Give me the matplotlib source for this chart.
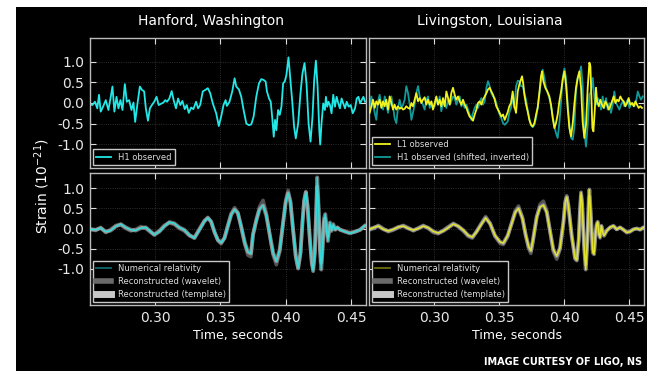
import matplotlib
matplotlib.use("Agg")
import matplotlib.pyplot as plt
from matplotlib.patches import Rectangle
from matplotlib.lines import Line2D

plt.rcParams['axes.unicode_minus'] = False
plt.rcParams['font.family'] = ['DejaVu Sans']

# ---------------- data (time in s, strain in 1e-21) ----------------
h1_t = [0.2492,0.2518,0.2538,0.2556,0.2569,0.2582,0.2600,0.2621,0.2641,0.2659,
        0.2672,0.2687,0.2703,0.2718,0.2733,0.2749,0.2767,0.2782,0.2800,0.2818,
        0.2833,0.2846,0.2864,0.2882,0.2898,0.2915,0.2928,0.2944,0.2959,0.2974,
        0.2992,0.3010,0.3026,0.3044,0.3062,0.3077,0.3090,0.3108,0.3126,0.3141,
        0.3159,0.3175,0.3192,0.3208,0.3226,0.3241,0.3257,0.3275,0.3292,0.3313,
        0.3328,0.3344,0.3364,0.3385,0.3403,0.3421,0.3441,0.3467,0.3487,0.3505,
        0.3523,0.3539,0.3549,0.3569,0.3590,0.3608,0.3621,0.3641,0.3659,0.3677,
        0.3698,0.3718,0.3736,0.3754,0.3774,0.3795,0.3813,0.3831,0.3846,0.3856,
        0.3872,0.3885,0.3898,0.3908,0.3918,0.3928,0.3941,0.3954,0.3967,0.3980,
        0.3992,0.4005,0.4021,0.4036,0.4051,0.4064,0.4077,0.4095,0.4113,0.4128,
        0.4144,0.4159,0.4175,0.4190,0.4205,0.4218,0.4231,0.4244,0.4257,0.4264,
        0.4274,0.4287,0.4300,0.4308,0.4318,0.4328,0.4339,0.4351,0.4364,0.4377,
        0.4390,0.4403,0.4415,0.4428,0.4441,0.4454,0.4467,0.4482,0.4498,0.4513,
        0.4531,0.4544,0.4557,0.4570,0.4582,0.4595,0.4608]
h1_v = [-0.01,-0.05,0.03,-0.13,0.20,-0.21,-0.09,0.07,-0.17,0.15,
        0.40,-0.21,0.15,-0.13,0.07,-0.17,0.46,0.03,0.07,-0.17,
        0.01,-0.46,-0.01,0.40,0.32,0.28,-0.13,-0.43,-0.13,-0.05,
        0.03,0.15,-0.05,-0.02,0.01,0.07,0.03,0.11,0.29,0.07,
        -0.13,0.11,-0.05,0.05,-0.15,-0.05,-0.24,-0.11,-0.15,0.03,
        -0.13,-0.05,0.28,0.32,0.36,0.24,-0.01,-0.25,-0.56,-0.33,
        -0.05,0.07,-0.07,0.03,0.28,0.60,0.40,0.33,0.15,-0.17,
        -0.50,-0.54,-0.52,-0.33,0.15,0.48,0.58,0.56,0.52,0.28,
        0.11,0.03,-0.41,-0.82,-0.41,-0.66,-0.17,-0.29,-0.09,0.48,
        0.52,0.68,1.11,0.56,-0.01,-0.58,-0.86,-0.50,0.24,0.72,
        0.97,0.48,-0.50,-0.94,-0.33,0.56,1.03,0.40,-0.66,-1.01,
        -0.50,-0.01,-0.17,0.15,-0.09,0.03,-0.05,-0.25,0.20,-0.09,
        0.15,-0.01,-0.13,0.11,-0.01,-0.13,0.03,-0.09,-0.05,-0.25,
        -0.13,0.11,0.15,-0.01,0.07,0.15,0.03]

l1_t = [0.2505,0.2518,0.2531,0.2544,0.2556,0.2569,0.2582,0.2595,0.2608,0.2621,
        0.2633,0.2646,0.2659,0.2672,0.2685,0.2697,0.2710,0.2723,0.2736,0.2749,
        0.2762,0.2774,0.2787,0.2800,0.2813,0.2826,0.2838,0.2851,0.2864,0.2877,
        0.2890,0.2903,0.2915,0.2928,0.2941,0.2954,0.2967,0.2980,0.2992,0.3005,
        0.3018,0.3031,0.3044,0.3056,0.3069,0.3082,0.3095,0.3108,0.3121,0.3133,
        0.3146,0.3159,0.3172,0.3185,0.3198,0.3210,0.3223,0.3236,0.3249,0.3262,
        0.3274,0.3287,0.3300,0.3313,0.3326,0.3338,0.3351,0.3364,0.3377,0.3390,
        0.3403,0.3415,0.3428,0.3441,0.3454,0.3467,0.3479,0.3492,0.3505,0.3518,
        0.3531,0.3544,
        0.3567,0.3579,0.3592,0.3605,0.3618,0.3631,0.3644,0.3656,0.3669,0.3677,
        0.3687,0.3695,0.3708,0.3720,0.3733,0.3746,0.3759,0.3772,0.3785,0.3797,
        0.3810,0.3823,0.3831,0.3841,0.3856,0.3872,0.3887,0.3900,0.3913,0.3926,
        0.3938,0.3951,0.3964,0.3977,0.3990,0.4003,0.4015,0.4028,0.4041,0.4054,
        0.4067,0.4079,0.4092,0.4105,0.4118,0.4131,0.4143,0.4156,0.4169,0.4182,
        0.4195,0.4203,0.4210,0.4218,0.4226,0.4236,0.4246,0.4254,0.4267,0.4279,
        0.4292,0.4305,0.4318,0.4331,0.4344,0.4356,0.4369,0.4382,0.4395,0.4408,
        0.4420,0.4433,0.4446,0.4459,0.4472,0.4485,0.4497,0.4510,0.4523,0.4536,
        0.4549,0.4561,0.4574,0.4587,0.4600]
l1_v = [-0.24,-0.08,0.08,-0.12,0.04,-0.04,0.08,-0.12,0.04,-0.08,
        0.08,-0.16,0.16,0.00,-0.16,-0.04,-0.16,-0.08,-0.14,-0.11,
        -0.16,-0.14,-0.08,-0.12,-0.14,0.00,-0.08,0.08,0.24,0.04,
        0.12,0.00,0.08,0.14,-0.04,0.08,-0.04,0.04,-0.16,0.00,
        0.16,-0.04,0.08,-0.08,0.12,-0.08,0.28,0.12,-0.04,0.24,
        0.37,0.20,0.08,0.16,0.04,-0.04,0.08,-0.04,-0.12,-0.24,
        -0.33,-0.37,-0.43,-0.28,-0.16,0.00,0.04,-0.04,0.08,0.16,
        0.24,0.33,0.37,0.28,0.20,0.08,-0.08,-0.16,-0.24,-0.33,
        -0.28,-0.41,
        -0.22,-0.08,0.00,0.28,-0.08,-0.24,0.28,0.45,0.57,0.65,
        0.45,0.20,-0.04,-0.20,-0.41,-0.53,-0.57,-0.49,-0.28,-0.12,
        0.24,0.65,0.77,0.53,0.37,0.28,0.16,-0.04,-0.37,-0.61,
        -0.49,-0.28,0.04,0.28,0.57,0.77,0.45,-0.12,-0.61,-0.81,
        -0.49,-0.04,0.37,0.61,0.77,0.37,-0.45,-0.85,-0.53,0.37,
        0.98,0.89,0.20,-0.61,-0.69,-0.20,0.37,0.04,-0.08,0.08,
        -0.04,-0.12,0.04,-0.04,-0.16,-0.08,0.04,0.16,0.00,0.08,
        0.04,0.16,0.08,0.04,-0.08,0.00,0.12,-0.04,0.00,-0.08,
        0.04,-0.04,-0.12,-0.08,-0.12]

hs_t = [0.2505,0.2518,0.2531,0.2544,0.2556,0.2569,0.2582,0.2595,0.2608,0.2621,
        0.2633,0.2646,0.2659,0.2672,0.2685,0.2697,0.2710,0.2723,0.2736,0.2749,
        0.2762,0.2774,0.2787,0.2800,0.2813,0.2826,0.2838,0.2851,0.2864,0.2877,
        0.2890,0.2903,0.2915,0.2928,0.2941,0.2954,0.2967,0.2980,0.2992,0.3005,
        0.3018,0.3031,0.3044,0.3056,0.3069,0.3082,0.3095,0.3108,0.3121,0.3133,
        0.3146,0.3159,0.3172,0.3185,0.3198,0.3210,0.3223,0.3236,0.3249,0.3262,
        0.3274,0.3287,0.3300,0.3313,0.3326,0.3338,0.3351,0.3364,0.3377,0.3390,
        0.3403,0.3415,0.3428,0.3441,0.3454,0.3467,0.3479,0.3492,0.3505,0.3518,
        0.3531,0.3544,
        0.3567,0.3579,0.3592,0.3605,0.3618,0.3631,0.3644,0.3656,0.3669,0.3682,
        0.3695,0.3708,0.3720,0.3733,0.3746,0.3759,0.3772,0.3785,0.3797,0.3810,
        0.3823,0.3836,0.3849,0.3861,0.3874,0.3887,0.3900,0.3913,0.3926,0.3938,
        0.3951,0.3964,0.3977,0.3990,0.4003,0.4015,0.4028,0.4041,0.4054,0.4067,
        0.4079,0.4092,0.4105,0.4118,0.4131,0.4143,0.4156,0.4169,0.4182,0.4195,
        0.4208,0.4221,0.4233,0.4246,0.4259,0.4272,0.4285,0.4297,0.4310,0.4323,
        0.4336,0.4349,0.4361,0.4374,0.4387,0.4400,0.4413,0.4426,0.4438,0.4451,
        0.4464,0.4477,0.4490,0.4503,0.4515,0.4528,0.4541,0.4554,0.4567,0.4580,
        0.4592,0.4605]
hs_v = [-0.08,0.16,-0.04,-0.24,-0.41,0.04,0.20,-0.04,-0.16,0.16,
        0.00,-0.24,-0.04,0.16,-0.08,-0.37,-0.49,-0.12,0.08,-0.12,
        -0.04,0.08,0.41,0.24,-0.04,-0.41,-0.24,-0.04,0.24,0.41,
        0.16,0.04,-0.04,-0.16,0.08,0.16,-0.12,0.00,-0.12,-0.08,
        0.12,-0.04,0.16,-0.20,0.00,-0.04,-0.12,0.08,-0.04,0.04,
        0.16,0.12,-0.04,0.08,0.16,-0.08,0.00,-0.12,-0.04,-0.16,
        -0.28,-0.41,-0.24,-0.12,-0.04,-0.12,0.00,0.12,-0.04,0.04,
        0.37,0.53,0.41,0.24,0.16,0.12,0.00,-0.16,-0.28,-0.37,
        -0.49,-0.53,
        -0.45,-0.24,-0.12,0.16,-0.12,0.41,0.54,0.53,0.41,0.41,
        0.24,0.08,-0.16,-0.37,-0.54,-0.59,-0.53,-0.37,-0.12,0.20,
        0.53,0.81,0.61,0.37,0.24,0.12,-0.08,-0.33,-0.57,-0.73,
        -0.85,-0.49,0.04,0.61,0.84,0.61,0.00,-0.53,-0.85,-0.89,
        -0.61,0.28,0.61,0.69,0.89,0.45,-0.69,-1.06,-0.53,0.20,
        0.28,0.61,0.12,-0.04,0.12,0.04,-0.16,0.16,-0.12,0.12,
        -0.16,0.00,-0.24,-0.04,0.28,0.00,-0.08,-0.16,-0.04,0.04,
        -0.08,0.00,0.08,-0.12,-0.04,0.00,-0.08,0.04,0.28,0.16,
        0.08,0.16]

nrH_t = [0.2492,0.2544,0.2582,0.2621,0.2659,0.2698,0.2736,0.2774,0.2813,0.2851,
         0.2890,0.2928,0.2967,0.2992,0.3031,0.3069,0.3108,0.3146,0.3185,0.3223,
         0.3262,0.3300,0.3339,0.3377,0.3403,0.3428,0.3454,0.3480,0.3505,0.3531,
         0.3556,0.3582,0.3608,0.3633,0.3659,0.3685,0.3710,0.3733,0.3749,0.3774,
         0.3800,0.3826,0.3851,0.3877,0.3903,0.3928,0.3954,0.3980,0.4000,0.4018,
         0.4036,0.4056,0.4077,0.4095,0.4113,0.4128,0.4141,0.4154,0.4167,0.4185,
         0.4200,0.4210,0.4223,0.4233,0.4241,0.4251,0.4262,0.4272,0.4282,0.4292,
         0.4303,0.4313,0.4323,0.4339,0.4351,0.4364,0.4380,0.4395,0.4416,0.4454,
         0.4492,0.4531,0.4569,0.4608]
nrH_v = [-0.02,-0.03,0.01,-0.08,-0.05,0.05,0.11,0.03,-0.03,-0.05,
         0.01,0.03,-0.08,-0.16,-0.08,0.05,0.16,0.13,0.03,-0.03,
         -0.16,-0.24,-0.03,0.18,0.26,0.18,-0.08,-0.28,-0.35,-0.24,
         0.05,0.34,0.47,0.38,0.05,-0.33,-0.58,-0.62,-0.14,0.19,
         0.48,0.57,0.32,-0.14,-0.60,-0.81,-0.52,0.15,0.65,0.88,
         0.65,-0.02,-0.68,-0.98,-0.60,0.15,0.69,0.90,0.57,-0.27,
         -0.85,-1.06,-0.60,0.40,1.27,0.57,-0.52,-1.02,-0.52,0.23,
         0.36,-0.02,-0.31,0.15,-0.06,0.11,-0.03,0.03,-0.03,-0.08,
         -0.12,-0.08,-0.03,0.08]
wlH_v = [0.00,-0.05,0.03,-0.10,-0.02,0.08,0.09,0.00,-0.06,-0.02,
         0.05,0.00,-0.10,-0.14,-0.05,0.08,0.14,0.10,0.00,-0.06,
         -0.18,-0.22,0.00,0.20,0.28,0.16,-0.10,-0.30,-0.38,-0.22,
         0.08,0.38,0.52,0.40,0.02,-0.38,-0.66,-0.70,-0.18,0.22,
         0.55,0.70,0.38,-0.16,-0.66,-0.90,-0.58,0.15,0.70,0.95,
         0.68,-0.02,-0.72,-1.00,-0.62,0.15,0.70,0.92,0.55,-0.30,
         -0.88,-1.00,-0.55,0.38,1.05,0.50,-0.50,-0.85,-0.45,0.15,
         0.25,0.00,-0.20,0.08,-0.02,0.05,-0.02,0.02,-0.03,-0.06,
         -0.10,-0.08,-0.04,0.06]

nrL_t = [0.2500,0.2533,0.2572,0.2610,0.2649,0.2687,0.2726,0.2764,0.2803,0.2841,
         0.2880,0.2918,0.2956,0.2995,0.3033,0.3072,0.3110,0.3149,0.3187,0.3226,
         0.3264,0.3295,0.3328,0.3367,0.3397,0.3431,0.3469,0.3508,0.3533,0.3567,
         0.3597,0.3625,0.3650,0.3680,0.3705,0.3728,0.3745,0.3760,
         0.3790,0.3815,0.3841,0.3867,0.3892,0.3918,0.3944,0.3969,0.3995,0.4010,
         0.4021,0.4033,0.4059,0.4085,0.4098,0.4113,0.4123,0.4131,0.4139,0.4154,
         0.4167,0.4180,0.4190,0.4195,0.4205,0.4221,0.4231,0.4241,0.4251,0.4259,
         0.4269,0.4277,0.4287,0.4298,0.4308,0.4328,0.4354,0.4380,0.4405,0.4431,
         0.4457,0.4482,0.4508,0.4534,0.4559,0.4585,0.4611]
nrL_v = [-0.02,0.02,0.06,-0.02,-0.06,-0.02,0.04,0.06,0.00,-0.04,
         0.00,0.06,0.02,-0.07,-0.11,-0.06,0.02,0.11,0.06,-0.04,
         -0.17,-0.21,-0.08,0.12,0.26,0.12,-0.17,-0.33,-0.36,-0.17,
         0.12,0.40,0.50,0.25,-0.15,-0.45,-0.55,-0.30,
         0.28,0.53,0.58,0.40,-0.06,-0.52,-0.68,-0.48,0.15,0.65,
         0.78,0.57,-0.18,-0.73,-0.78,-0.27,0.48,0.90,0.65,-0.43,
         -1.02,-0.27,0.73,0.97,0.40,-0.60,-0.64,-0.18,0.11,0.17,
         -0.14,-0.23,0.07,-0.10,-0.18,-0.06,0.03,0.07,-0.02,0.03,
         -0.03,-0.10,-0.08,-0.02,0.00,-0.03,0.03]
wlL_v = [-0.04,0.00,0.08,0.00,-0.08,-0.04,0.02,0.08,0.02,-0.06,
         0.02,0.08,0.00,-0.10,-0.13,-0.04,0.05,0.13,0.04,-0.07,
         -0.20,-0.24,-0.06,0.15,0.30,0.14,-0.20,-0.37,-0.40,-0.20,
         0.15,0.45,0.56,0.28,-0.18,-0.50,-0.62,-0.35,
         0.30,0.60,0.68,0.45,-0.06,-0.58,-0.76,-0.52,0.15,0.70,
         0.82,0.60,-0.18,-0.76,-0.80,-0.28,0.45,0.82,0.60,-0.40,
         -0.90,-0.25,0.60,0.80,0.35,-0.50,-0.55,-0.15,0.08,0.12,
         -0.10,-0.18,0.05,-0.08,-0.14,-0.04,0.02,0.05,-0.02,0.02,
         -0.03,-0.08,-0.06,-0.02,0.00,-0.02,0.02]

xticks = [0.30, 0.35, 0.40, 0.45]
yticks = [-1.0, -0.5, 0.0, 0.5, 1.0]

# ---------------- figure ----------------
W, H = 647, 371
fig = plt.figure(figsize=(W / 100, H / 100), dpi=100, facecolor='black')
# white margins at top and left of the screenshot
fig.patches.append(Rectangle((0, 0), 16 / W, 1, transform=fig.transFigure,
                             facecolor='white', edgecolor='none', zorder=-10))
fig.patches.append(Rectangle((0, 1 - 7 / H), 1, 7 / H, transform=fig.transFigure,
                             facecolor='white', edgecolor='none', zorder=-10))

def box(x0, x1, y0, y1):
    return [x0 / W, 1 - y1 / H, (x1 - x0) / W, (y1 - y0) / H]

axTL = fig.add_axes(box(90, 366, 38, 168))
axTR = fig.add_axes(box(369, 644, 38, 168))
axBL = fig.add_axes(box(90, 366, 173, 305))
axBR = fig.add_axes(box(369, 644, 173, 305))

CYAN = '#22e8e8'
YEL = '#f2f21e'
TEAL = '#129a9a'

for ax, top, left in [(axTL, True, True), (axTR, True, False),
                      (axBL, False, True), (axBR, False, False)]:
    ax.set_facecolor('black')
    ax.set_xlim(0.25, 0.4615)
    if top:
        ax.set_ylim(-1.58, 1.58)
    else:
        ax.set_ylim(-1.9, 1.38)
    ax.set_xticks(xticks)
    ax.set_yticks(yticks)
    ax.tick_params(direction='in', colors='#dddddd', length=4, width=0.8,
                   top=True, right=True, labelsize=10, pad=4)
    for s in ax.spines.values():
        s.set_color('#bbbbbb')
        s.set_linewidth(1.0)
    ax.grid(True, color='#666666', linestyle=':', linewidth=0.6, alpha=0.6)
    if top:
        ax.set_xticklabels([])
    else:
        ax.set_xticklabels(['%.2f' % v for v in xticks], color='#e8e8e8')
    if left:
        ax.set_yticklabels(['%.1f' % v for v in yticks], color='#e8e8e8')
    else:
        ax.set_yticklabels([])

leg_kw = dict(loc='lower left', fontsize=6, frameon=True, fancybox=False,
              facecolor='black', edgecolor='#c8c8c8', framealpha=1,
              labelcolor='#dddddd', borderaxespad=0.35, handlelength=1.8,
              borderpad=0.4, labelspacing=0.45)

axTL.plot(h1_t, h1_v, color=CYAN, lw=1.3, label='H1 observed')
lg = axTL.legend(**leg_kw)
lg.get_frame().set_linewidth(1.0)

axTR.plot(l1_t, l1_v, color=YEL, lw=1.3, label='L1 observed', zorder=3)
axTR.plot(hs_t, hs_v, color=TEAL, lw=1.3, label='H1 observed (shifted, inverted)', zorder=2)
lg = axTR.legend(**leg_kw)
lg.get_frame().set_linewidth(1.0)

for ax, nt, nv, wv, col in [(axBL, nrH_t, nrH_v, wlH_v, CYAN), (axBR, nrL_t, nrL_v, wlL_v, YEL)]:
    ax.plot(nt, wv, color='#5c5c5c', lw=2.6, alpha=0.9, zorder=2, solid_capstyle='round')
    ax.plot(nt, nv, color='#d8d8d8', lw=2.8, alpha=0.5, zorder=3, solid_capstyle='round')
    ax.plot(nt, nv, color=col, lw=1.1, alpha=0.85, zorder=4)
    handles = [Line2D([], [], color=col, lw=1.3, alpha=0.45),
               Line2D([], [], color='#6a6a6a', lw=4),
               Line2D([], [], color='#c8c8c8', lw=5)]
    labels = ['Numerical relativity', 'Reconstructed (wavelet)', 'Reconstructed (template)']
    lg = ax.legend(handles, labels, **leg_kw)
    lg.get_frame().set_linewidth(1.0)

fig.text(211 / W, 1 - 21 / H, 'Hanford, Washington', ha='center', va='center',
         color='white', fontsize=10)
fig.text(490 / W, 1 - 21 / H, 'Livingston, Louisiana', ha='center', va='center',
         color='white', fontsize=10)
fig.text(238 / W, 1 - 335 / H, 'Time, seconds', ha='center', va='center',
         color='white', fontsize=9)
fig.text(517 / W, 1 - 335 / H, 'Time, seconds', ha='center', va='center',
         color='white', fontsize=9)
fig.text(42 / W, 1 - 186 / H, 'Strain ($10^{-21}$)', rotation=90, ha='center',
         va='center', color='white', fontsize=10)
fig.text(484 / W, 1 - 362 / H, 'IMAGE CURTESY OF LIGO, NS', ha='left', va='center',
         color='white', fontsize=7.0, fontweight='bold')

fig.savefig('out.png', dpi=100, facecolor=fig.get_facecolor())
